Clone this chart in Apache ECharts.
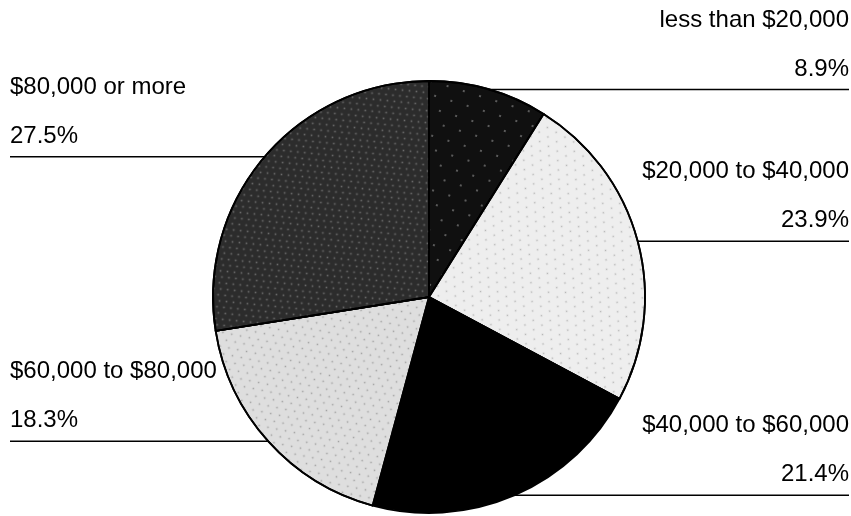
<!DOCTYPE html>
<html>
<head>
<meta charset="utf-8">
<script src="https://cdn.jsdelivr.net/npm/echarts@6/dist/echarts.min.js"></script>
<style>
html,body{margin:0;padding:0;background:#fff;}
#chart{width:851px;height:516px;}
</style>
</head>
<body>
<div id="chart"></div>
<script>
const categories = ['less than $20,000', '$20,000 to $40,000', '$40,000 to $60,000', '$60,000 to $80,000', '$80,000 or more'];
const values = [8.9, 23.9, 21.4, 18.3, 27.5];
const sliceColors = ['#101010', '#eeeeee', '#000000', '#dedede', '#2c2c2c'];
const decals = [
  {symbol: 'rect', symbolSize: 0.35, color: 'rgba(255,255,255,0.6)', dashArrayX: [[4, 13], [0, 9, 4, 4]], dashArrayY: [4, 9], rotation: 0.3},
  {symbol: 'rect', symbolSize: 0.5, color: 'rgba(110,110,110,0.45)', dashArrayX: [[3, 7], [0, 5, 3, 2]], dashArrayY: [3, 5], rotation: 0.5},
  null,
  {symbol: 'rect', symbolSize: 0.5, color: 'rgba(100,100,100,0.5)', dashArrayX: [[3, 6], [0, 4, 3, 2]], dashArrayY: [3, 4], rotation: 0.2},
  {symbol: 'rect', symbolSize: 0.55, color: 'rgba(160,160,160,0.55)', dashArrayX: [[3, 4], [0, 2, 3, 2]], dashArrayY: [3, 3], rotation: 0.1}
];

const CX = 429, CY = 297, R = 216;
const LEFT_EDGE = 10, RIGHT_EDGE = 849;

const chart = echarts.init(document.getElementById('chart'), null, {renderer: 'canvas'});
const data = categories.map((name, i) => {
  const item = {name: name, value: values[i], itemStyle: {color: sliceColors[i]}};
  if (decals[i]) item.itemStyle.decal = decals[i];
  return item;
});

chart.setOption({
  animation: false,
  backgroundColor: '#ffffff',
  series: [{
    type: 'pie',
    center: [CX, CY],
    radius: [0, R],
    startAngle: 90,
    clockwise: true,
    avoidLabelOverlap: false,
    silent: true,
    data: data,
    itemStyle: {borderColor: '#000', borderWidth: 1.8},
    label: {
      show: true,
      position: 'outside',
      formatter: '{n|{b}}\n{n|{c}%}',
      rich: {
        n: {fontFamily: 'Liberation Sans, Arial, sans-serif', fontSize: 24, color: '#000', lineHeight: 49}
      }
    },
    labelLine: {show: true, length: 0, length2: 10, smooth: false, lineStyle: {color: '#000', width: 1.5}},
    labelLayout: function (params) {
      const pts = params.labelLinePoints;
      const x0 = pts[0][0], y0 = pts[0][1];
      const isLeft = x0 < CX;
      const edgeX = isLeft ? LEFT_EDGE : RIGHT_EDGE;
      return {
        x: edgeX,
        y: y0 - 45,
        align: isLeft ? 'left' : 'right',
        verticalAlign: 'middle',
        labelLinePoints: [[x0, y0], [x0, y0], [edgeX, y0]]
      };
    }
  }]
});
</script>
</body>
</html>
